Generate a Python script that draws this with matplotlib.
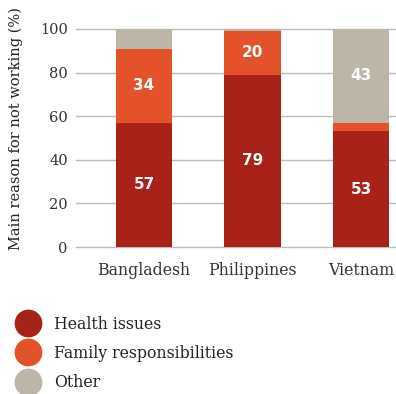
import matplotlib.pyplot as plt
from matplotlib.lines import Line2D
import numpy as np

# data
countries = ['Bangladesh', 'Philippines', 'Vietnam']
health = [57, 79, 53]
family = [34, 20, 4]
other = [9, 1, 43]
health_labels = ['57', '79', '53']
family_labels = ['34', '20', '']
other_labels = ['', '', '43']
yticks = [0, 20, 40, 60, 80, 100]

c_health = '#a8221a'
c_family = '#e4522b'
c_other = '#bdb5a8'

plt.rcParams['font.family'] = ['DejaVu Serif']

fig = plt.figure(figsize=(3.96, 3.94), dpi=100)
ax = fig.add_axes([76 / 396, 1 - 247 / 394, 1 - 76 / 396, 218 / 394])

x = np.arange(len(countries))
w = 0.52
health = np.array(health)
family = np.array(family)
other = np.array(other)

b1 = ax.bar(x, health, w, color=c_health, zorder=3)
b2 = ax.bar(x, family, w, bottom=health, color=c_family, zorder=3)
b3 = ax.bar(x, other, w, bottom=health + family, color=c_other, zorder=3)

for bars, labs in ((b1, health_labels), (b2, family_labels), (b3, other_labels)):
    ax.bar_label(bars, labels=labs, label_type='center', color='white',
                 fontsize=11, fontweight='bold', family='DejaVu Sans')

ax.set_xlim(-0.627, 2.32)
ax.set_ylim(0, 100)
ax.set_yticks(yticks)
ax.set_xticks(x)
ax.set_xticklabels(countries, fontsize=11.3, color='#333333')
ax.tick_params(axis='y', labelsize=10.5, colors='#333333', length=0, pad=6)
ax.tick_params(axis='x', length=0, pad=11)
ax.grid(axis='y', color='#bbbbbb', lw=1, zorder=0)
for gl in ax.get_ygridlines():
    gl.set_clip_on(False)
for s in ax.spines.values():
    s.set_visible(False)
ax.set_ylabel('Main reason for not working (%)', fontsize=10.5, color='#222222')
ax.yaxis.set_label_coords(-0.165, 0.545)

handles = [Line2D([], [], ls='none', marker='o', ms=19, color=c)
           for c in (c_health, c_family, c_other)]
fig.legend(handles, ['Health issues', 'Family responsibilities', 'Other'],
           loc='upper left', bbox_to_anchor=(0.005, 0.235), frameon=False,
           fontsize=11.3, labelspacing=0.78, handletextpad=0.9,
           handlelength=1.5, labelcolor='#222222')

fig.savefig('out.png', dpi=100)
